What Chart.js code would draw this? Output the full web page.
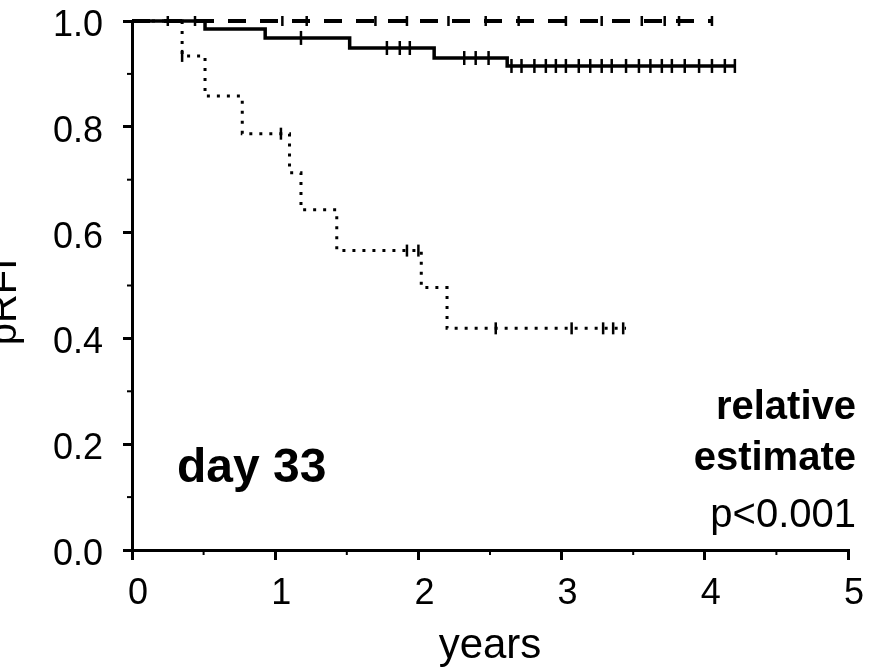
<!DOCTYPE html>
<html>
<head>
<meta charset="utf-8">
<script src="https://cdn.jsdelivr.net/npm/chart.js@4"></script>
<style>
  html, body { margin: 0; padding: 0; background: #fff; }
  #wrap { width: 870px; height: 670px; }
</style>
</head>
<body>
<div id="wrap"><canvas id="grafico" width="870" height="670"></canvas></div>
<script>
// dados (anos, probabilidade)
const xTicks = [0, 1, 2, 3, 4, 5];
const yTicks = [0, 0.2, 0.4, 0.6, 0.8, 1.0];

// curva continua
const solidTimes = [0, 0.51, 0.93, 1.52, 2.11, 2.62, 4.21];
const solidSurv = [1.0, 0.985, 0.968, 0.949, 0.930, 0.915, 0.915];
const solidCensored = [1.18, 1.78, 1.87, 1.94, 2.32, 2.40, 2.49, 2.65, 2.72, 2.81, 2.89, 2.96, 3.03, 3.12, 3.20, 3.28, 3.35, 3.45, 3.54, 3.62, 3.70, 3.77, 3.86, 3.96, 4.05, 4.14, 4.21];

// curva tracejada
const dashedTimes = [0, 4.05];
const dashedSurv = [1.0, 1.0];
const dashedCensored = [0.25, 0.44, 1.05, 1.22, 1.70, 1.92, 2.21, 2.47, 2.70, 3.03, 3.28, 3.56, 3.72, 3.82, 4.05];

// curva pontilhada
const dottedTimes = [0, 0.35, 0.51, 0.77, 1.10, 1.18, 1.43, 2.02, 2.20, 3.45];
const dottedSurv = [1.0, 0.934, 0.858, 0.787, 0.713, 0.643, 0.566, 0.496, 0.419, 0.419];
const dottedCensored = [0.35, 1.04, 1.92, 2.00, 2.54, 3.07, 3.29, 3.36, 3.43];

const fonte = "'Liberation Sans', Arial, sans-serif";

function toPoints(times, surv) {
    return times.map((t, i) => ({ x: t, y: surv[i] }));
}

// valor da curva no instante t (degrau)
function survAt(times, surv, t) {
    let v = surv[0];
    for (let i = 0; i < times.length; i++) {
        if (times[i] <= t) v = surv[i];
    }
    return v;
}

function censorPoints(cens, times, surv) {
    return cens.map(t => ({ x: t, y: survAt(times, surv, t) }));
}

function curva(data, width, dash) {
    return {
        type: 'line',
        data: data,
        borderColor: '#000',
        borderWidth: width,
        borderDash: dash,
        borderCapStyle: 'butt',
        stepped: 'before',
        pointRadius: 0,
        fill: false,
        clip: false
    };
}

function marcas(data, radius) {
    return {
        type: 'scatter',
        data: data,
        pointStyle: 'line',
        rotation: 90,
        pointRadius: radius,
        borderColor: '#000',
        borderWidth: 2.5,
        clip: false
    };
}

// textos extras e marcas menores dos eixos
const extras = {
    id: 'extras',
    afterDraw(chart) {
        const ctx = chart.ctx;
        const x = chart.scales.x;
        const y = chart.scales.y;
        ctx.save();
        ctx.strokeStyle = '#000';
        ctx.lineWidth = 2;
        [0.1, 0.3, 0.5, 0.7, 0.9].forEach(v => {
            const py = y.getPixelForValue(v);
            ctx.beginPath();
            ctx.moveTo(x.left, py);
            ctx.lineTo(x.left - 5, py);
            ctx.stroke();
        });
        [0.5, 1.5, 2.5, 3.5, 4.5].forEach(v => {
            const px = x.getPixelForValue(v);
            ctx.beginPath();
            ctx.moveTo(px, y.bottom);
            ctx.lineTo(px, y.bottom + 5);
            ctx.stroke();
        });

        ctx.fillStyle = '#000';
        ctx.textBaseline = 'alphabetic';
        ctx.font = 'bold 48px ' + fonte;
        ctx.textAlign = 'left';
        ctx.fillText('day 33', 177, 482);

        ctx.textAlign = 'right';
        ctx.font = 'bold 40px ' + fonte;
        ctx.fillText('relative', 856, 419);
        ctx.fillText('estimate', 856, 470);
        ctx.font = '40px ' + fonte;
        ctx.fillText('p<0.001', 856, 527);

        ctx.translate(16, 302);
        ctx.rotate(-Math.PI / 2);
        ctx.textAlign = 'center';
        ctx.font = '40px ' + fonte;
        ctx.fillText('pRFI', 0, 0);
        ctx.restore();
    }
};

const grafico = new Chart(document.getElementById('grafico'), {
    data: {
        datasets: [
            curva(toPoints(dashedTimes, dashedSurv), 4, [18, 14]),
            curva(toPoints(solidTimes, solidSurv), 3.5, []),
            curva(toPoints(dottedTimes, dottedSurv), 3, [3, 7]),
            marcas(censorPoints(dashedCensored, dashedTimes, dashedSurv), 5),
            marcas(censorPoints(solidCensored, solidTimes, solidSurv), 7),
            marcas(censorPoints(dottedCensored, dottedTimes, dottedSurv), 6)
        ]
    },
    options: {
        responsive: false,
        animation: false,
        layout: { padding: { left: 0, right: 22, top: 21, bottom: 0 } },
        plugins: {
            legend: { display: false },
            tooltip: { enabled: false }
        },
        scales: {
            x: {
                type: 'linear',
                min: 0,
                max: 5,
                afterFit: s => { s.height = 120; s.paddingLeft = 0; s.paddingRight = 0; },
                afterBuildTicks: s => { s.ticks = xTicks.map(v => ({ value: v })); },
                border: { color: '#000', width: 3 },
                grid: { drawOnChartArea: false, drawTicks: true, tickLength: 10, color: '#000', lineWidth: 3 },
                ticks: {
                    color: '#000',
                    font: { family: fonte, size: 36, lineHeight: 1 },
                    padding: 16,
                    labelOffset: 6,
                    maxRotation: 0,
                    callback: v => String(v)
                },
                title: {
                    display: true,
                    text: 'years',
                    color: '#000',
                    font: { family: fonte, size: 42, lineHeight: 1 },
                    padding: { top: 0, bottom: 3 }
                }
            },
            y: {
                type: 'linear',
                min: 0,
                max: 1,
                afterFit: s => { s.width = 132; s.paddingTop = 0; s.paddingBottom = 0; },
                afterBuildTicks: s => { s.ticks = yTicks.map(v => ({ value: v })); },
                border: { color: '#000', width: 3 },
                grid: { drawOnChartArea: false, drawTicks: true, tickLength: 9, color: '#000', lineWidth: 3 },
                ticks: {
                    color: '#000',
                    font: { family: fonte, size: 36, lineHeight: 1 },
                    padding: 20,
                    labelOffset: 5,
                    callback: v => v.toFixed(1)
                }
            }
        }
    },
    plugins: [extras]
});
</script>
</body>
</html>
